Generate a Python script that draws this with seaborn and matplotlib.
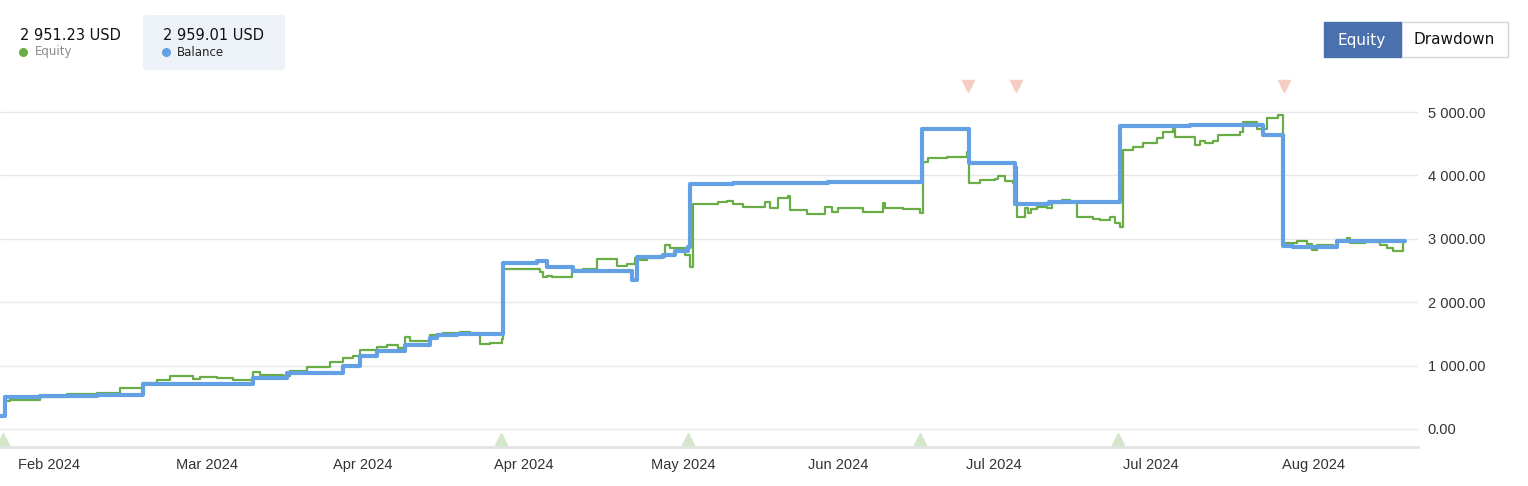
import matplotlib
matplotlib.use("Agg")
import matplotlib.pyplot as plt
from matplotlib.patches import FancyBboxPatch, Rectangle
import seaborn as sns
import pandas as pd

# ---------------- data ----------------
balance_x = [0, 5, 40, 97, 143, 253, 287, 343, 360, 377, 405, 430, 437, 457, 503, 537, 547, 573,
             632, 637, 663, 675, 688, 690, 733, 828, 922, 969, 1015, 1049, 1120, 1190, 1263,
             1283, 1293, 1337, 1405]
balance_y = [210, 500, 520, 540, 715, 800, 880, 1000, 1150, 1230, 1325, 1435, 1480, 1500, 2620, 2650,
             2555, 2490, 2350, 2710, 2745, 2810, 2870, 3865, 3880, 3900, 4730, 4195, 3550, 3580,
             4780, 4795, 4640, 2890, 2870, 2960, 2959]

equity_x = [0, 5, 10, 40, 67, 97, 120, 143, 157, 170, 193, 200, 217, 233, 253, 260, 283, 290, 307,
            330, 343, 353, 360, 377, 387, 398, 405, 410, 430, 443, 460, 470, 480, 490, 502,
            503, 523, 540, 543, 547, 552, 572, 583, 597, 617, 627, 635, 640, 647, 662, 665, 670,
            680, 685, 690,
            693, 718, 727, 733, 743, 765, 770, 778, 788, 790, 807, 825, 832, 838, 863, 883, 885,
            903, 920,
            923, 928, 947, 967, 969, 980, 995, 998, 1005, 1013, 1015, 1017, 1025, 1028, 1031,
            1037, 1047, 1052, 1062, 1070, 1077, 1093, 1100, 1110, 1115, 1120,
            1123, 1133, 1143, 1157, 1163, 1173, 1175, 1195, 1200, 1205, 1213, 1218, 1240, 1243,
            1257, 1267, 1278, 1283,
            1297, 1307, 1312, 1317, 1333, 1337, 1347, 1350, 1365, 1380, 1387, 1393, 1403, 1405]
equity_y = [210, 440, 460, 510, 545, 565, 640, 725, 770, 840, 790, 820, 800, 770, 900, 850, 840, 920,
            980, 1055, 1120, 1150, 1245, 1290, 1330, 1275, 1455, 1390, 1480, 1510, 1525, 1510,
            1340, 1360, 1420,
            2525, 2530, 2480, 2390, 2410, 2395, 2510, 2530, 2675, 2570, 2610, 2690, 2670, 2690,
            2710, 2900, 2850, 2855, 2745, 2555,
            3550, 3580, 3600, 3550, 3500, 3585, 3490, 3640, 3680, 3455, 3390, 3505, 3420, 3490,
            3430, 3570, 3480, 3470, 3400,
            4215, 4280, 4290, 4375, 3885, 3925, 3950, 3990, 3910, 3885, 4140, 3350, 3485, 3400,
            3470, 3505, 3480, 3560, 3610, 3585, 3350, 3320, 3295, 3350, 3245, 3190,
            4400, 4445, 4505, 4585, 4690, 4730, 4610, 4480, 4540, 4510, 4550, 4640, 4690, 4850,
            4735, 4900, 4960, 2940,
            2970, 2920, 2820, 2900, 2880, 2980, 3015, 2930, 2950, 2900, 2850, 2810, 2951, 2951]

deposit_x = [3, 501, 688, 920, 1118]
withdraw_x = [968, 1016, 1284]

tick_pos = [49, 207, 363, 524, 683, 838, 994, 1151, 1313]
tick_labels = ["Feb 2024", "Mar 2024", "Apr 2024", "Apr 2024", "May 2024",
               "Jun 2024", "Jul 2024", "Jul 2024", "Aug 2024"]
y_ticks = [0, 1000, 2000, 3000, 4000, 5000]

equity_last = "2 951.23 USD"
balance_last = "2 959.01 USD"

# ---------------- style ----------------
sns.set_theme(style="white")
plt.rcParams['font.family'] = ['DejaVu Sans']

GREEN = "#6aac45"
BLUE = "#64a0e4"

W, H = 1528, 486
fig = plt.figure(figsize=(W / 100, H / 100), dpi=100)
fig.patch.set_facecolor("white")
ax_left, ax_right, ax_top, ax_bot = 0, 1418, 80, 447
ax = fig.add_axes([ax_left / W, (H - ax_bot) / H, (ax_right - ax_left) / W, (ax_bot - ax_top) / H])
ax.set_facecolor("white")

eq_df = pd.DataFrame({"x": equity_x, "y": equity_y})
bal_df = pd.DataFrame({"x": balance_x, "y": balance_y})

sns.lineplot(data=eq_df, x="x", y="y", ax=ax, color=GREEN, linewidth=1.6,
             drawstyle="steps-post", estimator=None, sort=False, zorder=3)
sns.lineplot(data=bal_df, x="x", y="y", ax=ax, color=BLUE, linewidth=3.0,
             drawstyle="steps-post", estimator=None, sort=False, zorder=4)

ax.set_xlim(0, 1418)
ax.set_ylim(-284, 5505)
ax.set_xlabel("")
ax.set_ylabel("")

ax.set_yticks(y_ticks)
ax.set_yticklabels([f"{v:,.2f}".replace(",", " ") for v in y_ticks])
ax.yaxis.tick_right()
ax.set_xticks(tick_pos)
ax.set_xticklabels(tick_labels)
ax.tick_params(axis="both", length=0, labelsize=10.5, labelcolor="#333333")
ax.tick_params(axis="y", pad=7)
ax.tick_params(axis="x", pad=8)
for lab in ax.get_xticklabels() + ax.get_yticklabels():
    lab.set_family("Liberation Sans")

ax.grid(axis="y", color="#e8e8e8", linewidth=1)
ax.grid(axis="x", visible=False)
for s in ["top", "left", "right"]:
    ax.spines[s].set_visible(False)
ax.spines["bottom"].set_color("#e2e2e2")
ax.spines["bottom"].set_linewidth(2)

trans = ax.get_xaxis_transform()
ax.plot(deposit_x, [0.022] * len(deposit_x), linestyle="none", marker="^", markersize=9,
        color="#d3e6c9", transform=trans, clip_on=False, zorder=5)
ax.plot(withdraw_x, [0.984] * len(withdraw_x), linestyle="none", marker="v", markersize=9,
        color="#f6cdc2", transform=trans, clip_on=False, zorder=5)

# ---------------- header ----------------
def px(x, y):
    return x / W, 1 - y / H

fig.patches.append(FancyBboxPatch(px(143, 70), 142 / W, 55 / H,
                                  boxstyle="round,pad=0,rounding_size=0.003",
                                  transform=fig.transFigure, facecolor="#edf2f9",
                                  edgecolor="none", zorder=0))
fig.text(*px(20, 35), equity_last, fontsize=10.5, color="#111111", va="center", ha="left")
fig.text(*px(163, 35), balance_last, fontsize=10.5, color="#111111", va="center", ha="left")
fig.text(*px(35, 52), "Equity", fontsize=8.5, color="#8a8a8a", va="center", ha="left")
fig.text(*px(177, 52), "Balance", fontsize=8.5, color="#222222", va="center", ha="left")
fig.lines.append(plt.Line2D([23 / W], [1 - 52 / H], marker="o", markersize=5.5, color=GREEN,
                            transform=fig.transFigure))
fig.lines.append(plt.Line2D([166 / W], [1 - 52 / H], marker="o", markersize=5.5, color=BLUE,
                            transform=fig.transFigure))

# buttons
fig.patches.append(Rectangle(px(1401, 57), 107 / W, 35 / H, transform=fig.transFigure,
                             facecolor="white", edgecolor="#d6d6d6", linewidth=1))
fig.patches.append(Rectangle(px(1324, 57), 77 / W, 35 / H, transform=fig.transFigure,
                             facecolor="#4a70ae", edgecolor="#4a70ae", linewidth=1))
fig.text(*px(1362, 40), "Equity", fontsize=11, color="white", va="center", ha="center")
fig.text(*px(1454, 40), "Drawdown", fontsize=11, color="#111111", va="center", ha="center")

fig.savefig("out.png", dpi=100, facecolor="white")
